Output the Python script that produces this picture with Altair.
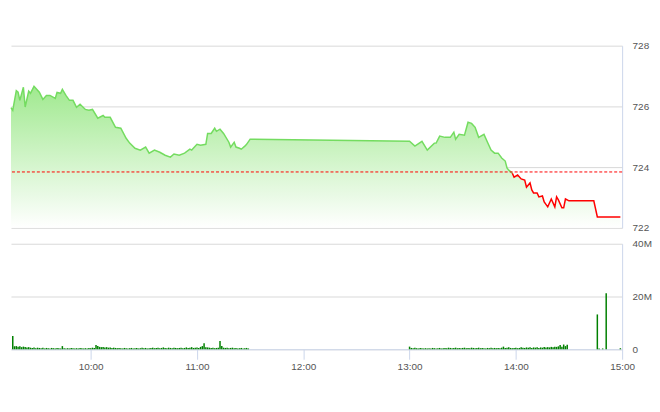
import altair as alt
import pandas as pd

DAY = "2024-01-01T"

# ---- price series (time, index value) ----
price_times = [
    "09:15", "09:16", "09:18", "09:19", "09:20", "09:22", "09:23", "09:25", "09:26", "09:28",
    "09:31", "09:33", "09:35", "09:37", "09:40", "09:41", "09:43", "09:44", "09:46", "09:48",
    "09:50", "09:52", "09:54", "09:57", "09:59", "10:01", "10:04", "10:07", "10:08", "10:11",
    "10:14", "10:17", "10:20", "10:22", "10:25", "10:28", "10:31", "10:33", "10:36", "10:39",
    "10:42", "10:45", "10:47", "10:50", "10:53", "10:56", "10:57", "11:00", "11:02", "11:05",
    "11:06", "11:08", "11:10", "11:11", "11:13", "11:15", "11:18", "11:19", "11:21", "11:22",
    "11:24", "11:25", "11:27", "11:28", "11:30",
    "13:00", "13:03", "13:07", "13:10", "13:14", "13:15", "13:17", "13:20", "13:23", "13:25",
    "13:26", "13:28", "13:31", "13:33", "13:35", "13:37", "13:39", "13:42", "13:44", "13:46",
    "13:48", "13:50", "13:52", "13:54", "13:55", "13:56", "13:58", "13:59", "14:01", "14:03",
    "14:05", "14:06", "14:08", "14:09", "14:10", "14:12", "14:13", "14:15", "14:16", "14:18",
    "14:20", "14:22", "14:23", "14:24", "14:26", "14:27", "14:28", "14:30", "14:44", "14:46",
    "14:59",
]
price_values = [
    725.96, 725.87, 726.52, 726.47, 726.20, 726.63, 725.98, 726.50, 726.43, 726.66,
    726.47, 726.23, 726.36, 726.36, 726.26, 726.46, 726.43, 726.56, 726.36, 726.20,
    726.20, 725.97, 726.07, 725.90, 725.87, 725.90, 725.61, 725.70, 725.64, 725.64,
    725.31, 725.28, 724.95, 724.79, 724.62, 724.56, 724.66, 724.46, 724.56, 724.49,
    724.39, 724.33, 724.43, 724.39, 724.46, 724.59, 724.56, 724.75, 724.72, 724.75,
    725.11, 725.11, 725.28, 725.18, 725.25, 725.11, 724.82, 724.66, 724.82, 724.66,
    724.62, 724.59, 724.69, 724.75, 724.92,
    724.85, 724.69, 724.85, 724.56, 724.79, 724.79, 725.02, 724.98, 724.98, 725.15,
    724.92, 725.08, 725.05, 725.48, 725.44, 725.31, 724.98, 725.08, 724.82, 724.56,
    724.46, 724.46, 724.30, 724.20, 723.97, 723.90, 723.80, 723.67, 723.74, 723.61,
    723.57, 723.34, 723.48, 723.25, 723.15, 723.15, 723.02, 723.05, 722.85, 722.69,
    722.95, 722.69, 723.02, 722.92, 722.66, 722.66, 722.95, 722.89, 722.89, 722.36,
    722.36,
]
ref_price = 723.84
split_time = "13:58"   # first point below the reference price

# ---- volume (millions), one bar per minute ----
vol_morning_start = "09:16"
vol_morning = [
    5.0, 1.1, 1.2, 1.0, 1.1, 0.8, 1.0, 0.9, 0.7, 0.8,
    0.6, 0.5, 0.7, 0.4, 0.6, 0.5, 0.4, 0.6, 0.3, 0.5,
    0.4, 0.3, 0.5, 0.4, 0.3, 0.5, 0.4, 0.3, 1.2, 0.4,
    0.3, 0.4, 0.3, 0.5, 0.4, 0.3, 0.4, 0.3, 0.5, 0.4,
    0.3, 0.4, 0.3, 0.5, 0.4, 0.6, 0.5, 1.6, 1.2, 0.9,
    0.8, 0.9, 0.7, 0.8, 0.6, 0.7, 0.5, 0.6, 0.5, 0.4,
    0.5, 0.4, 0.3, 0.5, 0.4, 0.3, 0.4, 0.5, 0.3, 0.4,
    0.5, 0.3, 0.4, 0.6, 0.4, 0.5, 0.3, 0.4, 0.5, 0.6,
    0.4, 0.5, 0.6, 0.4, 0.5, 0.7, 0.5, 0.4, 0.6, 0.5,
    0.4, 0.6, 0.5, 0.4, 0.5, 0.6, 0.4, 0.5, 0.7, 0.5,
    0.6, 0.8, 0.5, 0.6, 0.7, 0.5, 0.9, 1.2, 2.3, 0.8,
    0.7, 0.6, 0.5, 0.6, 0.4, 0.5, 0.6, 3.1, 1.2, 0.6,
    0.5, 0.6, 0.4, 0.5, 0.6, 0.4, 0.5, 0.3, 0.4, 0.5,
    0.3, 0.4, 0.5, 0.3,
]
vol_afternoon_start = "13:00"
vol_afternoon = [
    1.0, 0.5, 0.4, 0.6, 0.4, 0.3, 0.5, 0.4, 0.3, 0.4,
    0.3, 0.4, 0.3, 0.5, 0.4, 0.3, 0.4, 0.5, 0.3, 0.4,
    0.5, 0.4, 0.6, 0.5, 0.4, 0.5, 0.6, 0.4, 0.5, 0.4,
    0.5, 0.6, 0.4, 0.5, 0.4, 0.6, 0.5, 0.4, 0.5, 0.6,
    0.4, 0.5, 0.4, 0.3, 0.5, 0.4, 0.6, 0.4, 0.5, 0.4,
    0.5, 0.4, 0.6, 1.0, 0.5, 0.6, 0.8, 0.5, 0.4, 0.5,
    0.6, 0.4, 0.5, 0.8, 0.6, 0.5, 0.7, 0.6, 0.8, 0.5,
    0.7, 0.6, 0.8, 0.5, 0.7, 0.6, 0.9, 0.7, 0.8, 0.7,
    0.9, 0.8, 1.0, 0.9, 1.1, 1.6, 1.0, 1.8, 1.2, 1.7,
]
vol_late_times = ["14:46", "14:47", "14:49", "14:51", "14:59"]
vol_late_values = [13.2, 0.3, 0.3, 21.2, 0.4]

price_ticks = [722, 724, 726, 728]
vol_ticks = [0, 20, 40]
hour_ticks = [10, 11, 12, 13, 14, 15]

# ---- styling ----
FONT = "Liberation Sans"
LABEL_COLOR = "#555555"
GRID_COLOR = "#d9d9d9"
AXIS_LINE = "#ccd6eb"
W = 614
LABEL_PAD = 10

# ---- tables ----
def ts(hm):
    return DAY + hm + ":00"

price_df = pd.DataFrame({"t": [ts(t) for t in price_times], "p": price_values})
split_idx = price_times.index(split_time)
green_df = price_df.iloc[: split_idx + 1]
red_df = price_df.iloc[split_idx:]
ref_df = pd.DataFrame({"ref": [ref_price]})

def minute_series(start, values):
    rng = pd.date_range(DAY + start, periods=len(values), freq="min")
    return pd.DataFrame({"t": rng.strftime("%Y-%m-%dT%H:%M:%S"), "v": values})

vol_df = pd.concat([
    minute_series(vol_morning_start, vol_morning),
    minute_series(vol_afternoon_start, vol_afternoon),
    pd.DataFrame({"t": [ts(t) for t in vol_late_times], "v": vol_late_values}),
], ignore_index=True)

def dt(h, m=0):
    return alt.DateTime(year=2024, month=1, date=1, hours=h, minutes=m)

x_scale = alt.Scale(domain=[dt(9, 15), dt(15, 0)], padding=0, nice=False)
p_scale = alt.Scale(domain=[722, 728], zero=False, nice=False)

# ---- top panel ----
x_top = alt.X("t:T", scale=x_scale, axis=None)
y_price = alt.Y(
    "p:Q",
    scale=p_scale,
    axis=alt.Axis(
        orient="right", values=price_ticks, grid=True, gridColor=GRID_COLOR,
        domain=True, domainColor=AXIS_LINE, ticks=False, labelPadding=LABEL_PAD,
        labelAlign="left", title=None,
    ),
)

gradient = alt.Gradient(
    gradient="linear",
    stops=[
        alt.GradientStop(color="#a0e98f", offset=0),
        alt.GradientStop(color="#ffffff", offset=1),
    ],
    x1=0, x2=0, y1=0, y2=1,
)

area = alt.Chart(price_df).mark_area(color=gradient, opacity=1).encode(
    x=x_top, y=y_price, y2=alt.datum(722)
)
green_line = alt.Chart(green_df).mark_line(color="#74dc60", strokeWidth=1.5).encode(
    x=x_top, y=y_price
)
red_line = alt.Chart(red_df).mark_line(color="#ff0000", strokeWidth=1.5).encode(
    x=x_top, y=y_price
)
ref_rule = alt.Chart(ref_df).mark_rule(
    color="#ff0000", strokeDash=[3, 2], strokeWidth=1
).encode(y=alt.Y("ref:Q", scale=p_scale))

top = alt.layer(area, green_line, red_line, ref_rule).properties(width=W, height=183)

# ---- bottom panel ----
x_bot = alt.X(
    "t:T", scale=x_scale,
    axis=alt.Axis(
        values=[dt(h) for h in hour_ticks], format="%H:%M", grid=False,
        domain=True, domainColor=AXIS_LINE, ticks=True, tickColor=AXIS_LINE,
        tickSize=10, labelPadding=2, labelFlush=False, title=None,
    ),
)
y_vol = alt.Y(
    "v:Q",
    scale=alt.Scale(domain=[0, 40], nice=False),
    axis=alt.Axis(
        orient="right", values=vol_ticks, grid=True, gridColor=GRID_COLOR,
        domain=True, domainColor=AXIS_LINE, ticks=False, labelPadding=LABEL_PAD,
        labelAlign="left", title=None,
        labelExpr="datum.value == 0 ? '0' : datum.value + 'M'",
    ),
)
bars = alt.Chart(vol_df).mark_bar(size=1.5, color="#008000").encode(x=x_bot, y=y_vol)
bottom = bars.properties(width=W, height=106)

chart = alt.vconcat(top, bottom, spacing=6).properties(
    padding={"left": 0, "top": 32, "right": 0, "bottom": 2}
).configure_view(stroke=None).configure_axis(
    labelFont=FONT, labelFontSize=10, labelColor=LABEL_COLOR
)

chart.save("out.html", embed_options={"renderer": "svg", "actions": False})
